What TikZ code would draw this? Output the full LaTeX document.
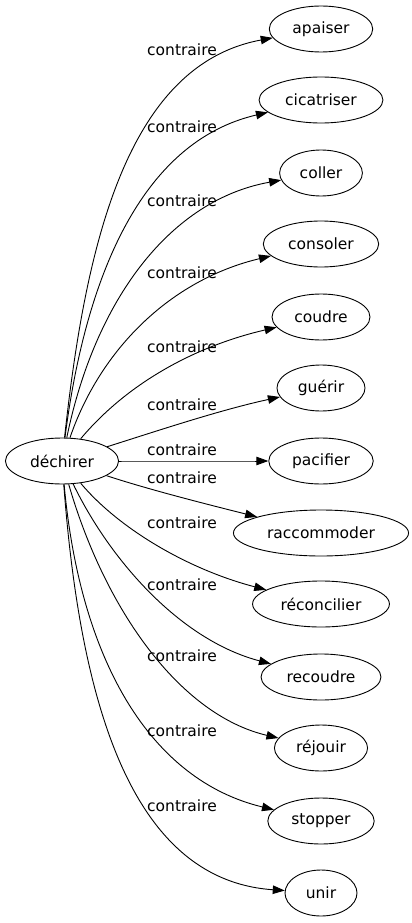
\documentclass[tikz,border=0pt]{standalone}
\usepackage{fontspec}
\setmainfont{DejaVu Sans}
\usetikzlibrary{arrows.meta, shapes.geometric}
\definecolor{ink}{HTML}{000000}
\tikzset{
  word/.style={draw=ink, ellipse, line width=0.9pt, inner xsep=8pt,
    minimum height=46pt, minimum width=72pt},
  rel/.style={draw=ink, line width=0.9pt, -{Triangle[length=12pt,width=8.5pt]}},
  tag/.style={inner sep=0pt, text=ink}
}

\begin{document}
\begin{tikzpicture}[x=1pt, y=-1pt, font=\fontsize{15.5}{18}\selectfont]
  \useasboundingbox (0,0) rectangle (412,923);

  \node[word] (dechirer) at (62,461) {déchirer};

  % the thirteen targets on the right
  \foreach \n/\w/\y in {
    apaiser/apaiser/29, cicatriser/cicatriser/100, coller/coller/173,
    consoler/consoler/244, coudre/coudre/317, guerir/guérir/388,
    pacifier/pacifier/461, raccommoder/raccommoder/533,
    reconcilier/réconcilier/604, recoudre/recoudre/677,
    rejouir/réjouir/748, stopper/stopper/821, unir/unir/893}
    \node[word] (\n) at (321,\y) {\w};

  % edges and their labels
  \foreach \n/\ly/\ax/\ay/\bx/\by in {
    apaiser/50/85/250/125/65,
    cicatriser/127/85/280/140/142,
    coller/201/95/300/170/200,
    consoler/273/100/350/170/280,
    coudre/347/130/380/200/345,
    guerir/405/160/430/220/410,
    pacifier/450/170/461/220/461,
    raccommoder/478/150/490/210/505,
    reconcilier/523/120/530/190/570,
    recoudre/585/110/560/180/640,
    rejouir/656/105/610/180/715,
    stopper/731/80/660/150/780,
    unir/806/80/700/130/880}
  {
    \draw[rel] (dechirer) .. controls (\ax,\ay) and (\bx,\by) .. (\n);
    \node[tag] (l-\n) at (182,\ly) {contraire};
  }
\end{tikzpicture}
\end{document}
